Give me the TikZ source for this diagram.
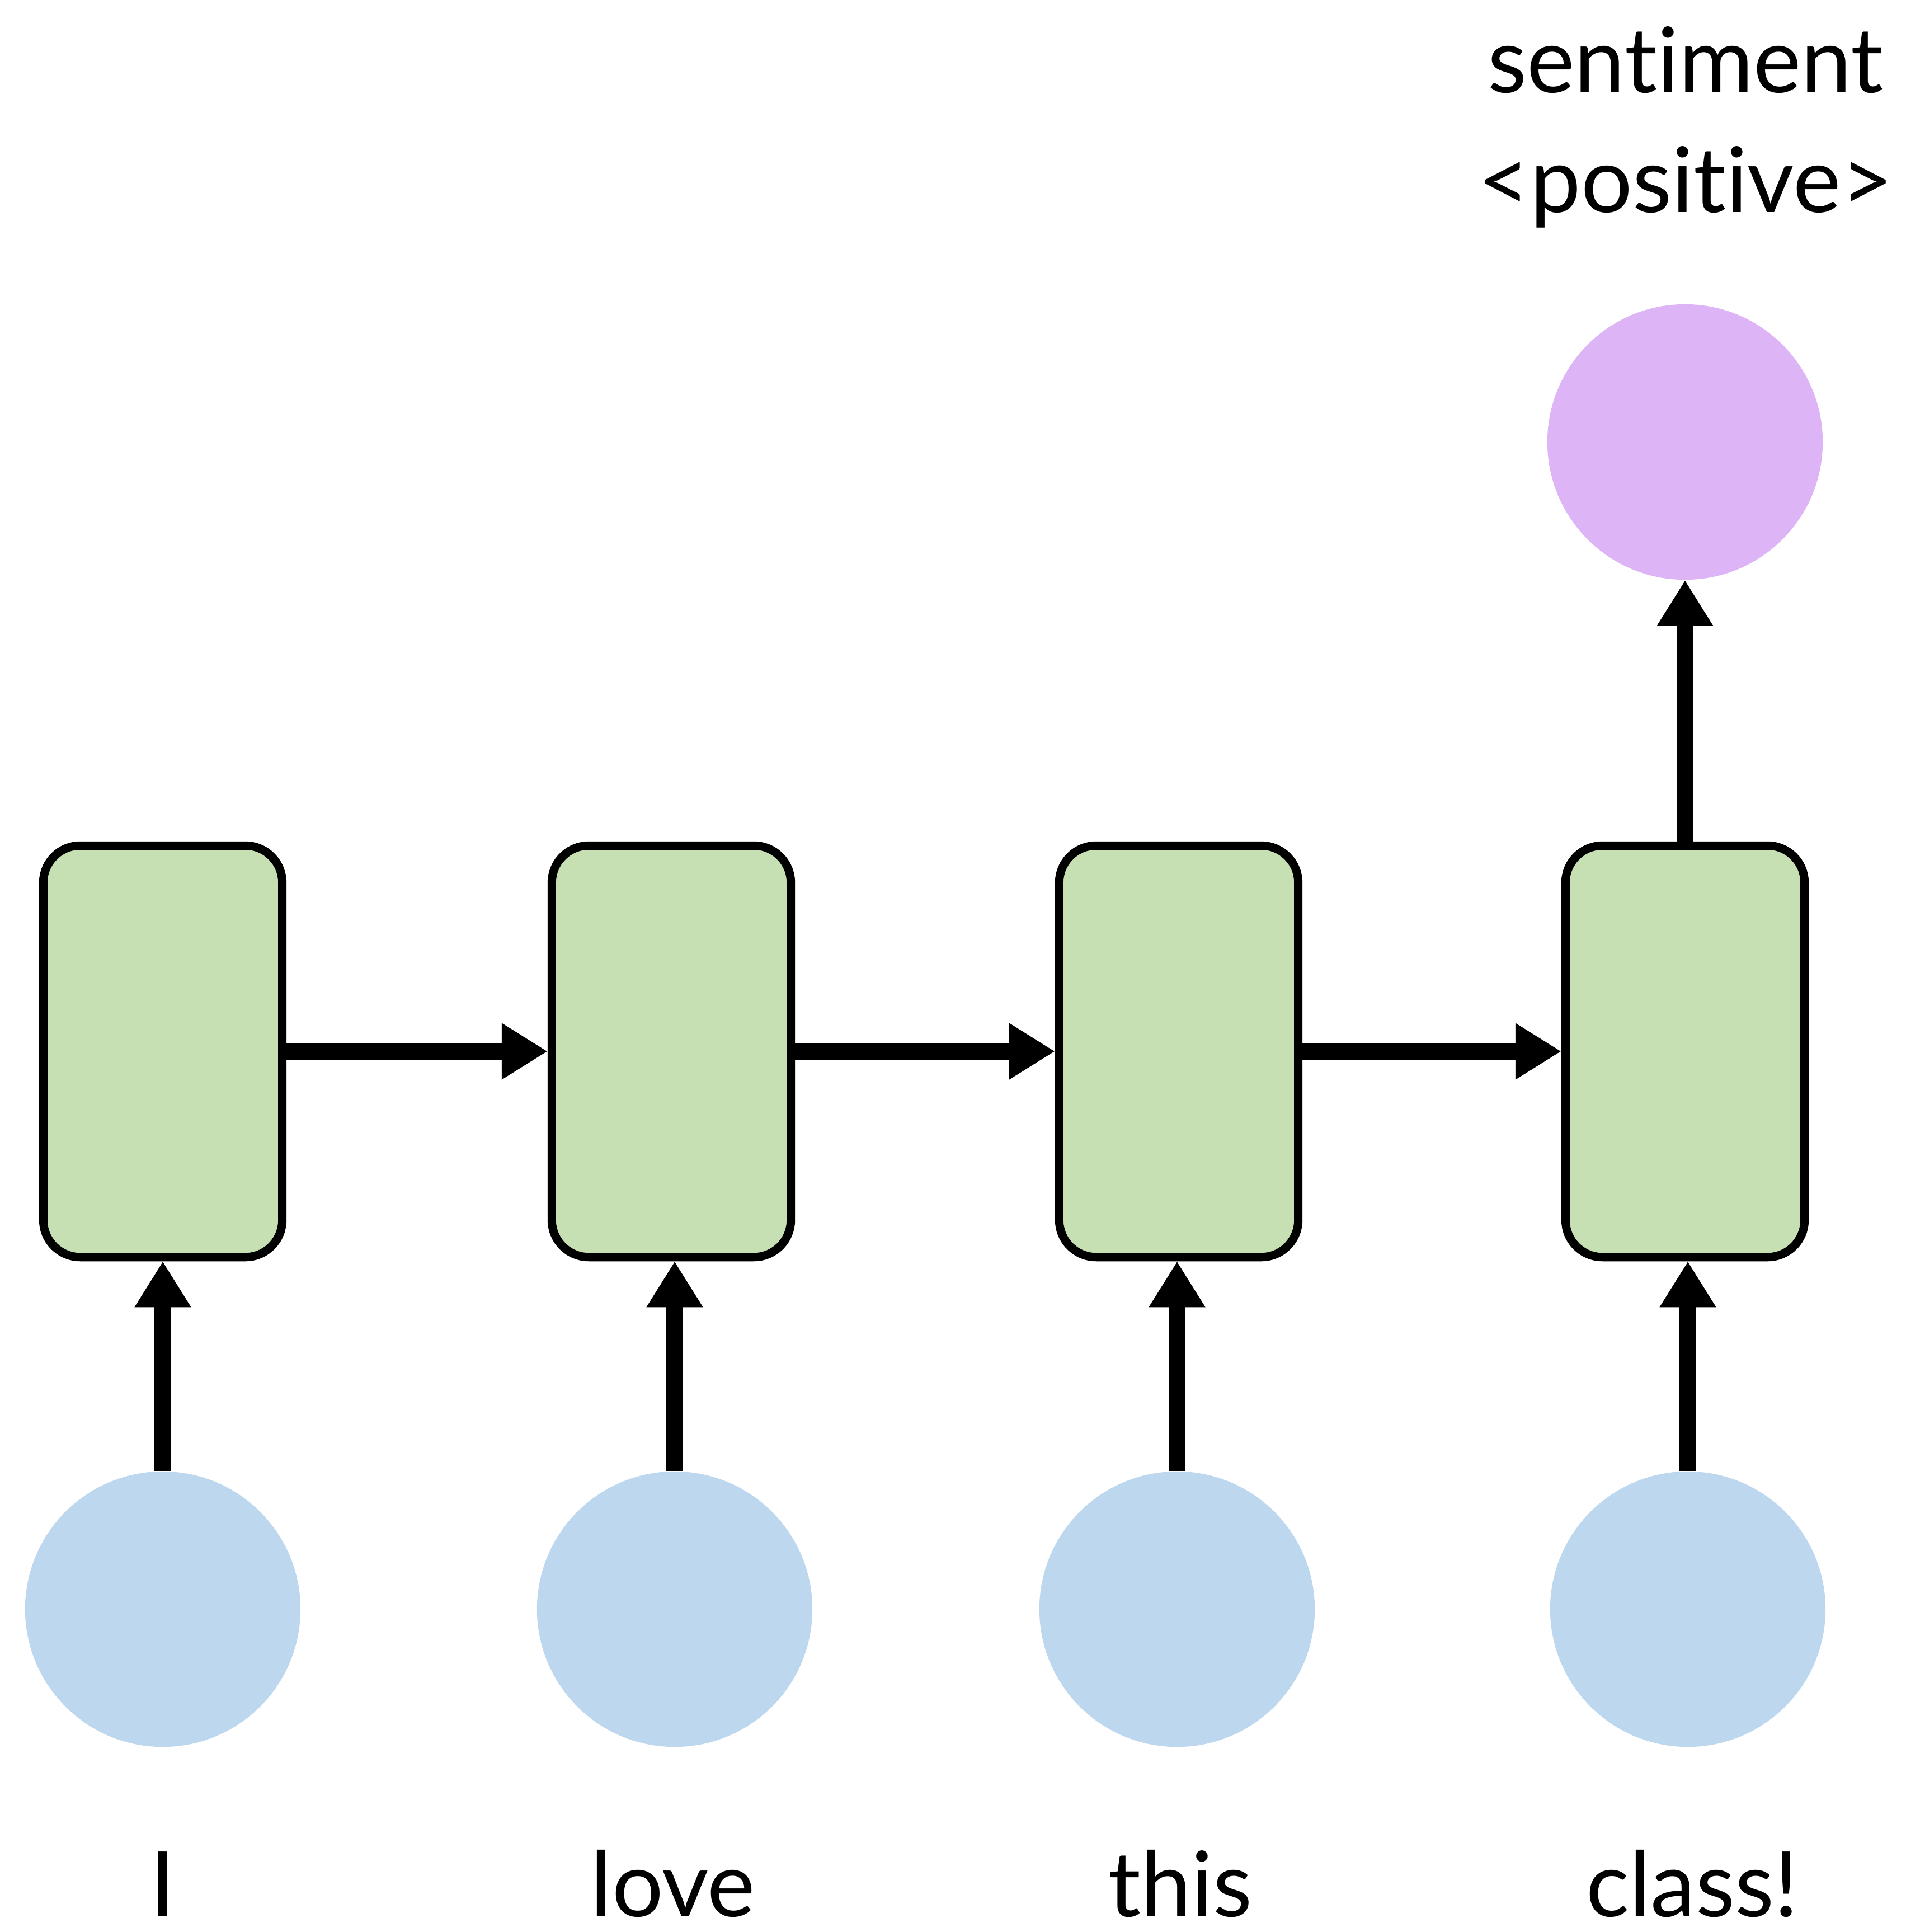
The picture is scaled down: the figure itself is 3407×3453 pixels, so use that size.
\documentclass[tikz,border=0pt]{standalone}
\usepackage{fontspec}
\setmainfont{Lato}[Ligatures=NoCommon]
\usetikzlibrary{arrows.meta}
\definecolor{boxgreen}{RGB}{198,224,180}
\definecolor{inblue}{RGB}{189,215,238}
\definecolor{outpurple}{RGB}{221,180,246}
\tikzset{
  cell/.style={draw=black, line width=0.15cm, fill=boxgreen, rounded corners=0.66cm,
    minimum width=4.27cm, minimum height=7.35cm, inner sep=0pt},
  inputnode/.style={circle, fill=inblue, minimum size=4.92cm, inner sep=0pt},
  outputnode/.style={circle, fill=outpurple, minimum size=4.92cm, inner sep=0pt},
  arr/.style={line width=0.30cm, -{Triangle[length=0.82cm,width=0.95cm]}},
  lbl/.style={font=\fontsize{46}{55}\selectfont, anchor=base, inner sep=0pt}
}
\begin{document}
\begin{tikzpicture}[x=0.01cm,y=-0.01cm]
\useasboundingbox (0,0) rectangle (3407,3453);
\node[cell] (b1) at (291,1879) {};
\node[cell] (b2) at (1200,1879) {};
\node[cell] (b3) at (2107,1879) {};
\node[cell] (b4) at (3012,1879) {};
\node[inputnode] (x1) at (291,2876) {};
\node[inputnode] (x2) at (1206,2876) {};
\node[inputnode] (x3) at (2104,2876) {};
\node[inputnode] (x4) at (3017,2876) {};
\node[outputnode] (y) at (3012,790) {};
\draw[arr] (b1) -- (b2);
\draw[arr] (b2) -- (b3);
\draw[arr] (b3) -- (b4);
\draw[arr] (x1.north) -- (x1.north |- b1.south);
\draw[arr] (x2.north) -- (x2.north |- b2.south);
\draw[arr] (x3.north) -- (x3.north |- b3.south);
\draw[arr] (x4.north) -- (x4.north |- b4.south);
\draw[arr] (b4.north) -- (y.south);
\node[lbl] (t1) at (3013,165) {sentiment};
\node[lbl] (t2) at (3013,379) {<positive>};
\node[lbl] (w1) at (291,3425) {I};
\node[lbl] (w2) at (1203,3425) {love};
\node[lbl] (w3) at (2110,3425) {this};
\node[lbl] (w4) at (3025,3425) {class!};
\end{tikzpicture}
\end{document}
